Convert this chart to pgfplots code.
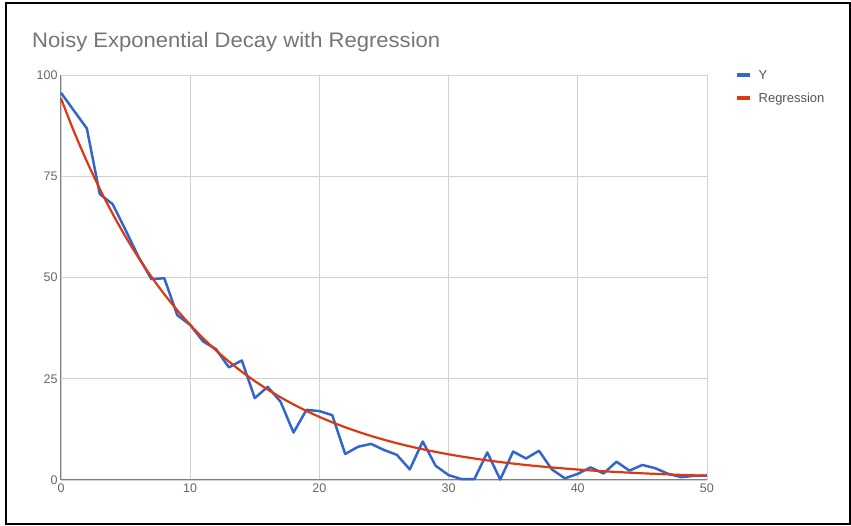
\documentclass[border=0pt]{standalone}
\usepackage{pgfplots}
\pgfplotsset{compat=1.18}
\usepackage{fontspec}
\setmainfont{Liberation Sans}
\definecolor{gblue}{HTML}{3366CC}
\definecolor{gred}{HTML}{DC3912}
\definecolor{tgray}{HTML}{666666}
\definecolor{ttitle}{HTML}{757575}
\definecolor{lgray}{HTML}{555555}
\begin{document}
\begin{tikzpicture}[x=1pt,y=1pt]
\path (0,0) rectangle (851,526);
\draw[line width=2.2pt] (6,2) rectangle (850,523);
\node[anchor=base west, text=ttitle, font=\fontsize{21}{25}\selectfont, inner sep=0pt] at (32,478.5) {\scalebox{1.05}[1]{Noisy Exponential Decay with Regression}};
\begin{axis}[
  at={(61pt,46pt)}, anchor=south west, scale only axis,
  width=646pt, height=405pt,
  xmin=0, xmax=50, ymin=0, ymax=100,
  xtick={0,10,20,30,40,50}, ytick={0,25,50,75,100},
  axis lines*=left,
  axis line style={-, draw=gray, line width=1pt},
  grid=major,
  major grid style={draw=black!18, line width=0.8pt},
  major tick length=0pt,
  tick label style={font=\fontsize{12.5}{14}\selectfont, text=tgray},
  /pgf/number format/assume math mode=true,
  clip=false,
  legend cell align=left,
  legend style={at={(1.038,1.022)}, anchor=north west, draw=none, fill=none,
    font=\fontsize{13}{15}\selectfont, text=lgray, row sep=8pt,
    /tikz/every odd column/.append style={column sep=5pt}},
  legend image code/.code={\draw[#1, line width=4pt] (0pt,0pt) -- (13pt,0pt);},
]
\addplot[gblue, line width=2.5pt, line join=round] coordinates {
(0,95.6)(1,91.2)(2,86.8)(3,70.6)(4,68.1)(5,61.7)(6,55.1)(7,49.6)(8,49.8)(9,40.7)
(10,38.3)(11,34.2)(12,32.3)(13,27.8)(14,29.5)(15,20.2)(16,23.0)(17,19.3)(18,11.7)(19,17.3)
(20,17.0)(21,16.0)(22,6.4)(23,8.2)(24,8.9)(25,7.4)(26,6.2)(27,2.6)(28,9.5)(29,3.5)
(30,1.2)(31,0.2)(32,0.2)(33,6.8)(34,0.1)(35,7.0)(36,5.3)(37,7.2)(38,2.6)(39,0.4)
(40,1.5)(41,3.1)(42,1.6)(43,4.5)(44,2.3)(45,3.7)(46,2.9)(47,1.5)(48,0.7)(49,1.0)(50,1.1)
};
\addlegendentry{Y}
\addplot[gred, line width=2.2pt, smooth] coordinates {
(0,94.2)(1,86.09)(2,78.68)(3,71.91)(4,65.72)(5,60.06)(6,54.89)(7,50.17)(8,45.85)(9,41.90)
(10,38.30)(11,35.00)(12,31.99)(13,29.24)(14,26.72)(15,24.42)(16,22.32)(17,20.40)(18,18.64)(19,17.04)
(20,15.57)(21,14.23)(22,13.01)(23,11.89)(24,10.86)(25,9.93)(26,9.07)(27,8.29)(28,7.58)(29,6.93)
(30,6.33)(31,5.79)(32,5.29)(33,4.83)(34,4.42)(35,4.04)(36,3.69)(37,3.37)(38,3.08)(39,2.82)
(40,2.57)(41,2.35)(42,2.15)(43,1.96)(44,1.80)(45,1.64)(46,1.50)(47,1.37)(48,1.25)(49,1.14)(50,1.05)
};
\addlegendentry{Regression}
\end{axis}
\end{tikzpicture}
\end{document}
